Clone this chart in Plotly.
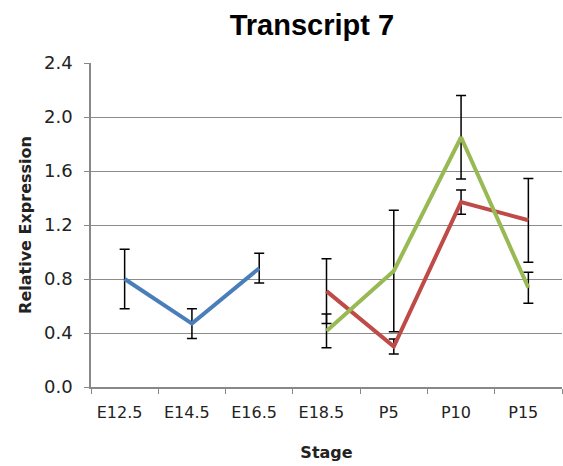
import plotly.graph_objects as go

stages = ["E12.5", "E14.5", "E16.5", "E18.5", "P5", "P10", "P15"]

blue_x = ["E12.5", "E14.5", "E16.5"]
blue_y = [0.80, 0.47, 0.88]
blue_err = [0.22, 0.11, 0.11]

red_x = ["E18.5", "P5", "P10", "P15"]
red_y = [0.71, 0.30, 1.37, 1.235]
red_err = [0.24, 0.055, 0.09, 0.31]

green_x = ["E18.5", "P5", "P10", "P15"]
green_y = [0.415, 0.86, 1.85, 0.735]
green_err = [0.125, 0.45, 0.31, 0.115]

y_ticks = [0.0, 0.4, 0.8, 1.2, 1.6, 2.0, 2.4]

fig = go.Figure()
for xs, ys, es, col in [(blue_x, blue_y, blue_err, "#4A7EBB"),
                        (red_x, red_y, red_err, "#BE4B48"),
                        (green_x, green_y, green_err, "#98B954")]:
    fig.add_trace(go.Scatter(
        x=xs, y=ys, mode="lines",
        line=dict(color=col, width=4),
        error_y=dict(type="data", array=es, visible=True,
                     color="black", thickness=1.5, width=5),
        showlegend=False, hoverinfo="skip"))

TICKFONT = "DejaVu Sans, Verdana, sans-serif"

fig.update_layout(
    width=563, height=466,
    margin=dict(l=91, r=1, t=63, b=79),
    paper_bgcolor="white", plot_bgcolor="white",
    title=dict(text="<b>Transcript 7</b>", x=0.469, xanchor="center",
               xref="paper", y=1 - 25 / 466, yanchor="middle",
               font=dict(family="Liberation Sans, Arial", size=29, color="black")),
    font=dict(family=TICKFONT, color="#222"),
)
fig.update_xaxes(
    type="category", categoryorder="array", categoryarray=stages,
    range=[-0.5, len(stages) - 0.5],
    tickvals=stages, ticktext=[s + "\u00a0\u00a0" for s in stages],
    tickson="boundaries", ticks="outside", ticklen=5, tickcolor="#888",
    ticklabelstandoff=10, tickangle=0, automargin=False,
    showline=True, linecolor="#888", linewidth=1.5,
    showgrid=False, tickfont=dict(family=TICKFONT, size=16, color="#222"),
    title=dict(text="<b>Stage</b>", font=dict(family=TICKFONT, size=16, color="#222"), standoff=26),
)
fig.update_yaxes(
    range=[0, 2.4], tickvals=y_ticks, ticktext=[f"{v:.1f}" for v in y_ticks],
    ticks="outside", ticklen=5, tickcolor="#888",
    ticklabelstandoff=8, automargin=False,
    showline=True, linecolor="#888", linewidth=1.5,
    showgrid=True, gridcolor="#8c8c8c", gridwidth=1.2,
    zeroline=False, tickfont=dict(family=TICKFONT, size=18, color="#222"),
    title=dict(text="<b>Relative Expression</b>", font=dict(family=TICKFONT, size=16, color="#222"), standoff=8),
)

fig.write_html(
    "out.html",
    config={"displayModeBar": False},
    post_script="document.body.style.margin='0';"
                "document.documentElement.style.overflow='hidden';",
)
